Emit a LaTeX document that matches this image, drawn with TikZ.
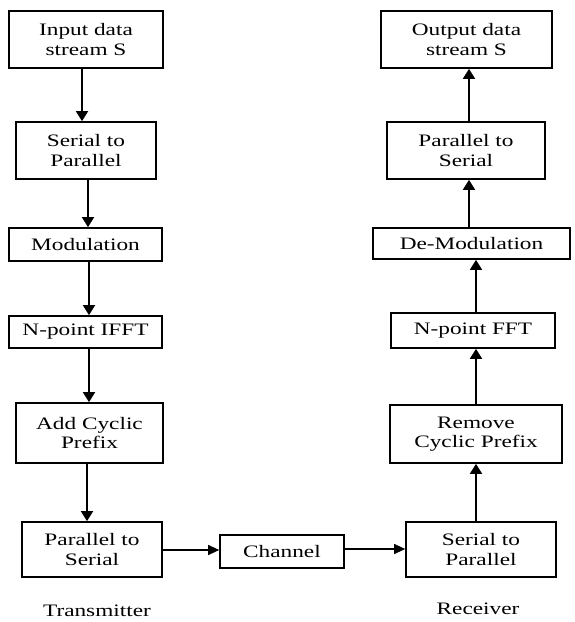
\documentclass[tikz,border=0pt]{standalone}
\usepackage{fontspec}
\setmainfont{Liberation Serif}[FakeStretch=1.33]
\usetikzlibrary{arrows.meta}
\tikzset{
  blk/.style={draw=black, line width=1.7pt, align=center, inner sep=0pt,
    font=\fontsize{17.5}{19.5}\selectfont, text=black},
  arr/.style={line width=1.8pt, -{Triangle[width=12pt,length=10pt]}},
  harr/.style={line width=1.2pt, -{Triangle[width=10pt,length=11pt]}},
  lbl/.style={font=\fontsize{17.5}{19.5}\selectfont, text=black},
}
\begin{document}
\begin{tikzpicture}[x=1pt,y=-1pt]
\useasboundingbox (0,0) rectangle (574,622);
\fill[white] (0,0) rectangle (574,622);
% transmitter
\node[blk, minimum width=154pt, minimum height=57pt] (in)   at (86,39.5)  {Input data\\stream S};
\node[blk, minimum width=140pt, minimum height=57pt] (s2p)  at (86,150.5) {Serial to\\Parallel};
\node[blk, minimum width=153pt, minimum height=33pt] (mod)  at (85.5,244.5) {Modulation};
\node[blk, minimum width=153pt, minimum height=32pt] (ifft) at (85.5,332)  {N-point IFFT};
\node[blk, minimum width=147pt, minimum height=60pt] (acp)  at (89.5,433)  {Add Cyclic\\Prefix};
\node[blk, minimum width=140pt, minimum height=55pt] (p2s)  at (92,549.5)  {Parallel to\\Serial};
\node[blk, minimum width=124pt, minimum height=33pt] (chan) at (282,551.5) {Channel};
% receiver
\node[blk, minimum width=171pt, minimum height=57pt] (out)   at (466.5,39.5) {Output data\\stream S};
\node[blk, minimum width=158pt, minimum height=57pt] (rp2s)  at (466,150.5)  {Parallel to\\Serial};
\node[blk, minimum width=197pt, minimum height=31pt] (demod) at (471.5,243.5) {De-Modulation};
\node[blk, minimum width=164pt, minimum height=35pt] (fft)   at (473,330.5)  {N-point FFT};
\node[blk, minimum width=172pt, minimum height=58pt] (rcp)   at (476,434)    {Remove\\Cyclic Prefix};
\node[blk, minimum width=150pt, minimum height=55pt] (rs2p)  at (481,549.5)  {Serial to\\Parallel};
% labels
\node[lbl] (tx) at (97,611) {Transmitter};
\node[lbl] (rx) at (478,609) {Receiver};
% guide coordinates for arrow columns
\coordinate (c82) at (82,0);
\coordinate (c88) at (88,0);
\coordinate (c89) at (89,0);
\coordinate (c87) at (87,0);
\coordinate (c469) at (469,0);
\coordinate (c476) at (476,0);
\coordinate (r550) at (0,550);
\coordinate (r549) at (0,549);
% transmitter arrows
\draw[arr] (in.south -| c82) -- (s2p.north -| c82);
\draw[arr] (s2p.south -| c88) -- (mod.north -| c88);
\draw[arr] (mod.south -| c89) -- (ifft.north -| c89);
\draw[arr] (ifft.south -| c89) -- (acp.north -| c89);
\draw[arr] (acp.south -| c87) -- (p2s.north -| c87);
\draw[harr] (p2s.east |- r550) -- (chan.west |- r550);
\draw[harr] (chan.east |- r549) -- (rs2p.west |- r549);
% receiver arrows
\draw[arr] (rs2p.north -| c476) -- (rcp.south -| c476);
\draw[arr] (rcp.north -| c476) -- (fft.south -| c476);
\draw[arr] (fft.north -| c476) -- (demod.south -| c476);
\draw[arr] (demod.north -| c469) -- (rp2s.south -| c469);
\draw[arr] (rp2s.north -| c469) -- (out.south -| c469);
\end{tikzpicture}
\end{document}
